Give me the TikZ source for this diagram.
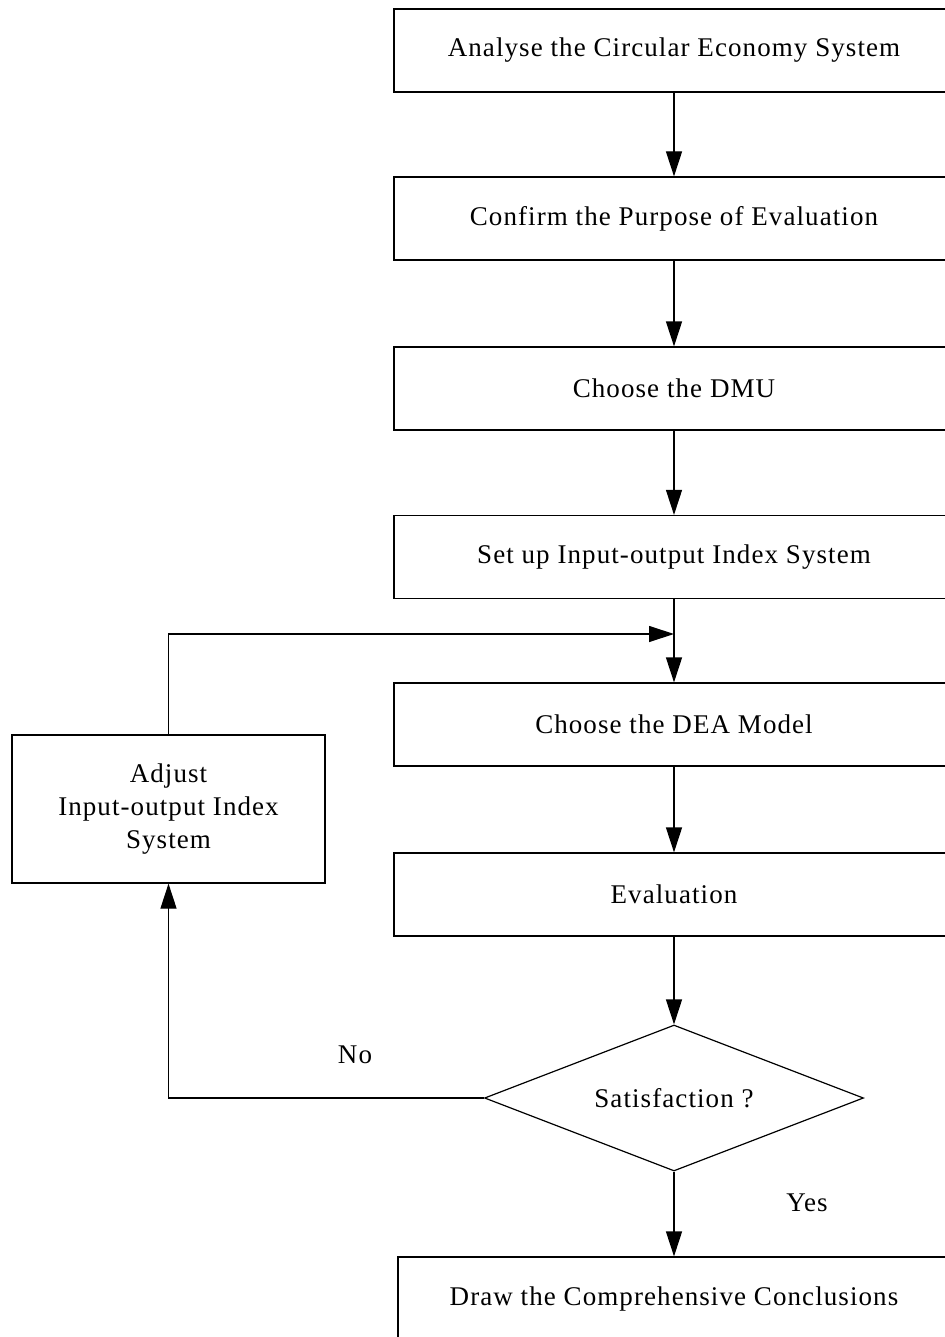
\documentclass[tikz,border=0pt]{standalone}
\usepackage{fontspec}
\setmainfont{Liberation Serif}[LetterSpace=4]
\usetikzlibrary{arrows.meta,shapes.geometric}

\begin{document}
\begin{tikzpicture}[x=1pt,y=-1pt,line width=1.2pt,
  every node/.style={font=\fontsize{27}{33}\selectfont},
  stepbox/.style={draw,minimum width=560pt,minimum height=83pt,inner sep=0pt},
  arr/.style={-{Triangle[length=25pt,width=16pt]}}]
\useasboundingbox (0,0) rectangle (944,1337);
\node[stepbox] (b1) at (674,50.5) {Analyse the Circular Economy System};
\node[stepbox] (b2) at (674,218.5) {Confirm the Purpose of Evaluation};
\node[stepbox] (b3) at (674,388.5) {Choose the DMU};
\node[stepbox] (b4) at (674,557) {Set up Input-output Index System};
\node[stepbox] (b5) at (674,724.5) {Choose the DEA Model};
\node[stepbox] (b6) at (674,894.5) {Evaluation};
\node[draw,diamond,aspect=2.6,minimum width=379pt,minimum height=146pt,inner sep=0pt] (sat) at (674,1098) {Satisfaction ?};
\node[stepbox,minimum width=552pt] (concl) at (674,1298.5) {Draw the Comprehensive Conclusions};
\node[draw,minimum width=313pt,minimum height=148pt,align=center,inner sep=0pt] (adj) at (168.5,809) {Adjust\\Input-output Index\\System};
\node (no) at (355,1055) {No};
\node (yes) at (807,1203) {Yes};
\coordinate (join) at (674,634);
\draw[arr] (b1)--(b2);
\draw[arr] (b2)--(b3);
\draw[arr] (b3)--(b4);
\draw[arr] (b4)--(b5);
\draw[arr] (b5)--(b6);
\draw[arr] (b6)--(sat);
\draw[arr] (sat)--(concl);
\draw[arr] (adj.north)|-(join);
\draw[arr] (sat.west)-|(adj.south);
\end{tikzpicture}
\end{document}
